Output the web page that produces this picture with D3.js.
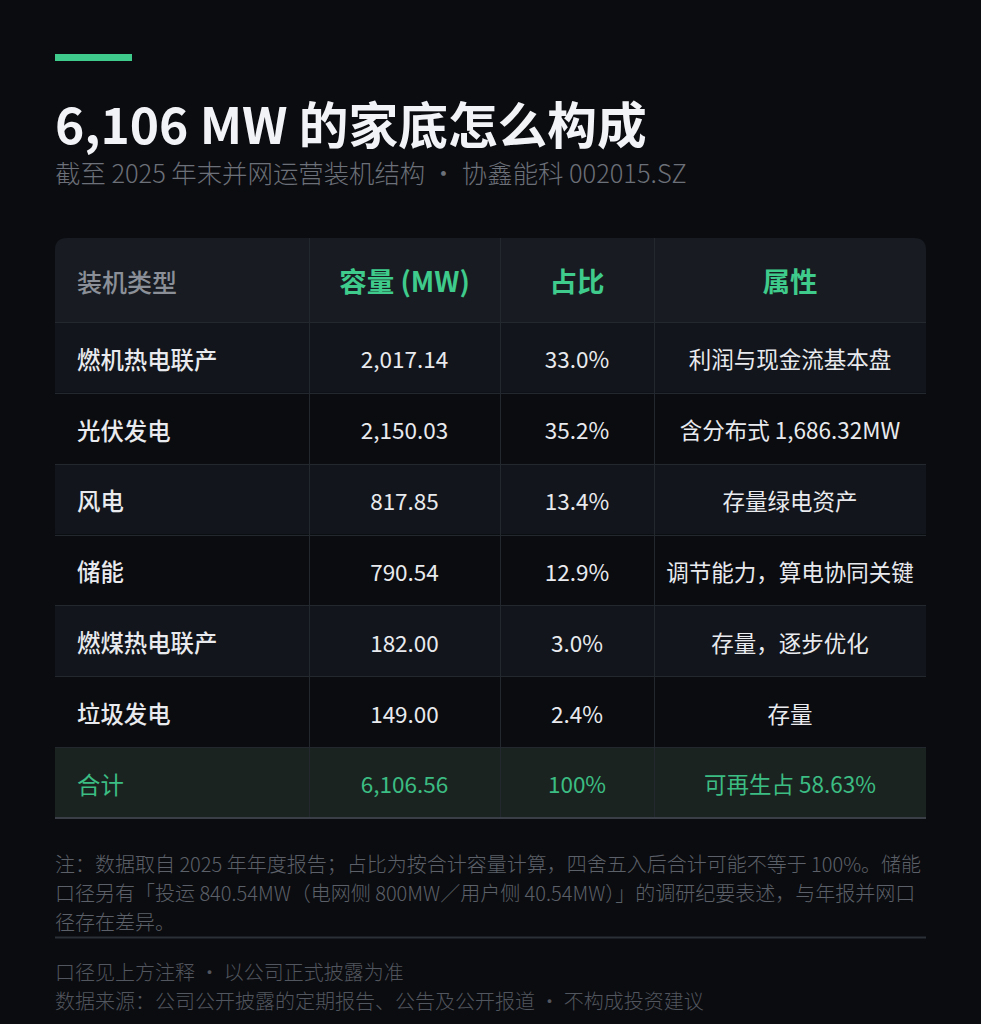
<!DOCTYPE html>
<html><head><meta charset="utf-8">
<script src="https://cdn.jsdelivr.net/npm/d3@7"></script>
<style>
html,body{margin:0;padding:0;background:#0b0c10;overflow:hidden;}
svg{display:block;font-family:"Noto Sans CJK SC","Noto Sans",sans-serif;}
</style></head>
<body><svg id="c" width="981" height="1024"></svg>
<script>
// ---- data ----
const title = "6,106 MW 的家底怎么构成";
const subtitle = "截至 2025 年末并网运营装机结构 ・ 协鑫能科 002015.SZ";
const headers = ["装机类型", "容量 (MW)", "占比", "属性"];
const categories = ["燃机热电联产", "光伏发电", "风电", "储能", "燃煤热电联产", "垃圾发电"];
const capacities = [2017.14, 2150.03, 817.85, 790.54, 182.00, 149.00];
const shares = [33.0, 35.2, 13.4, 12.9, 3.0, 2.4];
const attributes = ["利润与现金流基本盘", "含分布式 1,686.32MW", "存量绿电资产", "调节能力，算电协同关键", "存量，逐步优化", "存量"];
const totalLabel = "合计";
const totalCapacity = 6106.56;
const totalShare = "100%";
const totalAttr = "可再生占 58.63%";
const noteLines = [
  "注：数据取自 2025 年年度报告；占比为按合计容量计算，四舍五入后合计可能不等于 100%。储能",
  "口径另有「投运 840.54MW（电网侧 800MW／用户侧 40.54MW）」的调研纪要表述，与年报并网口",
  "径存在差异。"
];
const footerLines = [
  "口径见上方注释 ・ 以公司正式披露为准",
  "数据来源：公司公开披露的定期报告、公告及公开报道 ・ 不构成投资建议"
];

// ---- layout ----
const W = 981, L = 55, R = 926;
const colWeights = [254, 191, 154, 272];
const GREEN = "#3fcb8b";
const svg = d3.select("#c");

svg.append("rect").attr("width", W).attr("height", 1024).attr("fill", "#0b0c10");

// accent bar
svg.append("rect").attr("x", L).attr("y", 54).attr("width", 77).attr("height", 7).attr("fill", GREEN);

svg.append("text").attr("x", L).attr("y", 144).attr("fill", "#f2f3f6")
  .attr("font-size", 49.7).attr("font-weight", 700).text(title);
svg.append("text").attr("x", L).attr("y", 183).attr("fill", "#6c7078")
  .attr("font-size", 25.4).attr("font-weight", 300).text(subtitle);

// column scale
const cumul = [0]; colWeights.forEach(w => cumul.push(cumul[cumul.length - 1] + w));
const xCol = d3.scaleLinear().domain([0, cumul[cumul.length - 1]]).range([L, R]);
const colX = cumul.map(v => xCol(v));

const tableTop = 238, headerBottom = 322, tableBottom = 818;
const rowKeys = categories.concat([totalLabel]);
const y = d3.scaleBand().domain(rowKeys).range([headerBottom, tableBottom]);

// clip for rounded top corners
const defs = svg.append("defs");
defs.append("clipPath").attr("id", "tclip").append("path")
  .attr("d", (() => { const r = 12; return `M${L},${tableBottom}V${tableTop + r}Q${L},${tableTop} ${L + r},${tableTop}H${R - r}Q${R},${tableTop} ${R},${tableTop + r}V${tableBottom}Z`; })());

const tg = svg.append("g").attr("clip-path", "url(#tclip)");
tg.append("rect").attr("x", L).attr("y", tableTop).attr("width", R - L).attr("height", headerBottom - tableTop).attr("fill", "#181c22");
tg.selectAll("rect.row").data(rowKeys).join("rect").attr("class", "row")
  .attr("x", L).attr("y", d => y(d)).attr("width", R - L).attr("height", y.bandwidth())
  .attr("fill", (d, i) => d === totalLabel ? "#1b2320" : (i % 2 === 0 ? "#12151b" : "#0b0c10"));

// horizontal lines
tg.selectAll("line.h").data(rowKeys.map(d => y(d))).join("line").attr("class", "h")
  .attr("x1", L).attr("x2", R).attr("y1", d => Math.round(d) + 0.5).attr("y2", d => Math.round(d) + 0.5)
  .attr("stroke", "#23272e").attr("stroke-width", 1);
// vertical lines
tg.selectAll("line.v").data(colX.slice(1, -1)).join("line").attr("class", "v")
  .attr("x1", d => Math.round(d) + 0.5).attr("x2", d => Math.round(d) + 0.5)
  .attr("y1", tableTop).attr("y2", tableBottom).attr("stroke", "#23272e");
// bottom border
svg.append("line").attr("x1", L).attr("x2", R).attr("y1", tableBottom).attr("y2", tableBottom)
  .attr("stroke", "#3a3f47").attr("stroke-width", 2);

// header text
const hy = (tableTop + headerBottom) / 2;
headers.forEach((h, i) => {
  const first = i === 0;
  svg.append("text")
    .attr("x", first ? colX[0] + 22 : (colX[i] + colX[i + 1]) / 2)
    .attr("y", hy).attr("dy", first ? "0.46em" : "0.44em")
    .attr("text-anchor", first ? "start" : "middle")
    .attr("font-size", first ? 25 : 27.5).attr("font-weight", first ? 500 : 700)
    .attr("fill", first ? "#8b9098" : GREEN).text(h);
});

// body rows
const fmt = d3.format(",.2f");
const rows = categories.map((c, i) => ({ key: c, cells: [c, fmt(capacities[i]), shares[i].toFixed(1) + "%", attributes[i]], total: false }));
rows.push({ key: totalLabel, cells: [totalLabel, fmt(totalCapacity), totalShare, totalAttr], total: true });

const rg = svg.selectAll("g.r").data(rows).join("g").attr("class", "r")
  .attr("transform", d => `translate(0,${y(d.key) + y.bandwidth() / 2})`);
rg.selectAll("text").data(d => d.cells.map((t, i) => ({ t, i, total: d.total }))).join("text")
  .attr("x", d => d.i === 0 ? colX[0] + 22 : (colX[d.i] + colX[d.i + 1]) / 2)
  .attr("dy", "0.48em")
  .attr("text-anchor", d => d.i === 0 ? "start" : "middle")
  .attr("font-size", d => d.i === 0 ? 23.4 : 22.5)
  .attr("font-weight", d => d.i === 0 && !d.total ? 500 : 400)
  .attr("fill", d => d.total ? "#3bbd83" : "#e8eaee")
  .text(d => d.t);

// notes
svg.selectAll("text.note").data(noteLines).join("text").attr("class", "note")
  .attr("x", L).attr("y", (d, i) => 864 + i * 29).attr("dy", "0.38em")
  .attr("font-size", 20).attr("font-weight", 300).attr("fill", "#5c6068").text(d => d);

svg.append("line").attr("x1", L).attr("x2", R).attr("y1", 937.5).attr("y2", 937.5)
  .attr("stroke", "#2b2f36").attr("stroke-width", 2);

svg.selectAll("text.foot").data(footerLines).join("text").attr("class", "foot")
  .attr("x", L).attr("y", (d, i) => 972 + i * 29).attr("dy", "0.38em")
  .attr("font-size", 20).attr("font-weight", 300).attr("fill", "#52565e").text(d => d);
</script></body></html>
